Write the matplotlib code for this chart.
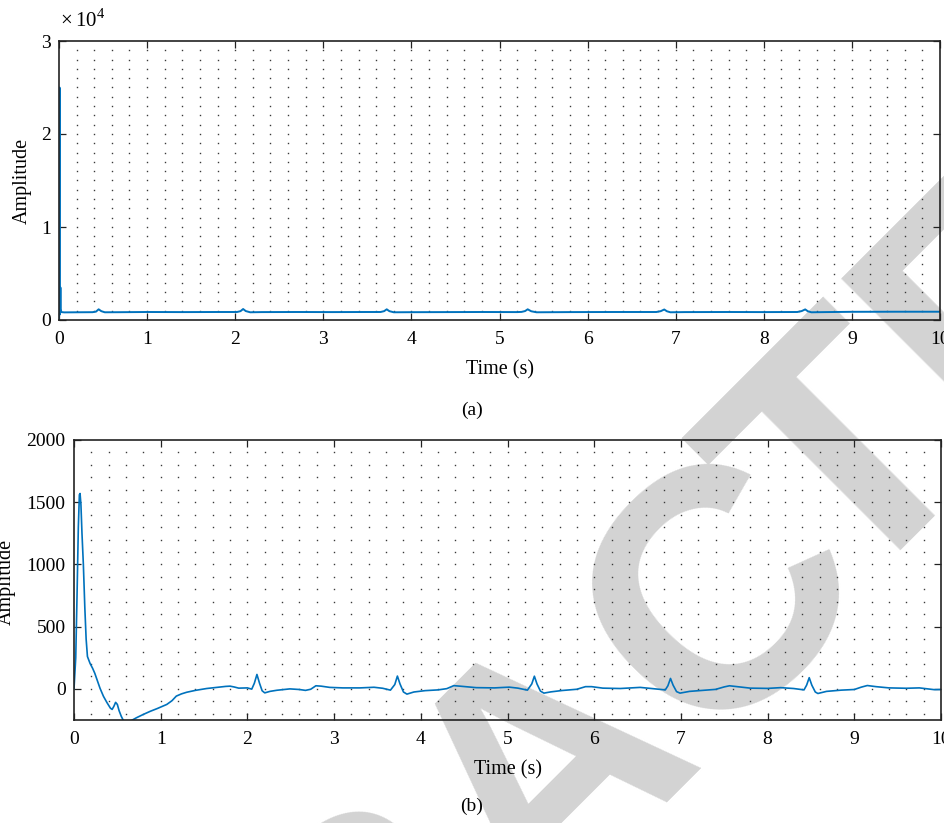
import matplotlib
matplotlib.use("Agg")
import matplotlib.pyplot as plt
import numpy as np

plt.rcParams['font.family'] = 'Liberation Serif'
plt.rcParams['mathtext.fontset'] = 'custom'
plt.rcParams['mathtext.rm'] = 'Liberation Serif'

# (a) raw ECG recording
t_raw = [0.000, 0.006, 0.011, 0.016, 0.020, 0.026, 0.060, 0.200, 0.380, 0.420,
         0.450, 0.480, 0.520, 0.700, 1.000, 1.400, 1.800, 2.020, 2.060, 2.090,
         2.120, 2.170, 2.300, 2.700, 3.100, 3.500, 3.650, 3.690, 3.720, 3.750,
         3.800, 4.000, 4.400, 4.800, 5.200, 5.250, 5.290, 5.320, 5.360, 5.420,
         5.800, 6.300, 6.780, 6.830, 6.870, 6.900, 6.940, 7.100, 7.600, 8.000,
         8.380, 8.430, 8.470, 8.500, 8.540, 8.700, 9.000, 9.500, 10.000]
amp_raw = [0, 25000, 600, 3500, 1200, 850, 820, 830, 840, 900,
           1150, 950, 830, 840, 860, 850, 860, 860, 950, 1180,
           960, 830, 850, 860, 850, 860, 860, 950, 1150, 950,
           830, 840, 850, 860, 850, 870, 960, 1150, 940, 830,
           850, 860, 860, 950, 1130, 940, 830, 850, 860, 850,
           860, 960, 1140, 940, 830, 850, 880, 890, 890]

# (b) filtered recording
t_filt = [0.000, 0.020, 0.035, 0.050, 0.062, 0.070, 0.080, 0.092, 0.108, 0.125,
          0.140, 0.155, 0.185, 0.215, 0.240, 0.270, 0.300, 0.340, 0.380, 0.420,
          0.440, 0.460, 0.480, 0.500, 0.520, 0.545, 0.570, 0.610, 0.660, 0.720,
          0.800, 0.880, 0.960, 1.070, 1.130, 1.180, 1.240, 1.300, 1.400, 1.530,
          1.650, 1.750, 1.800, 1.850, 1.900, 2.000, 2.050, 2.080, 2.110, 2.140,
          2.170, 2.200, 2.260, 2.340, 2.490, 2.600, 2.670, 2.730, 2.790, 2.850,
          2.950, 3.100, 3.300, 3.460, 3.560, 3.650, 3.700, 3.730, 3.760, 3.800,
          3.840, 3.920, 4.050, 4.200, 4.300, 4.380, 4.450, 4.640, 4.850, 5.020,
          5.120, 5.230, 5.280, 5.310, 5.340, 5.380, 5.420, 5.500, 5.630, 5.800,
          5.900, 5.970, 6.100, 6.300, 6.530, 6.650, 6.820, 6.850, 6.880, 6.910,
          6.950, 6.990, 7.100, 7.250, 7.400, 7.500, 7.560, 7.650, 7.800, 8.000,
          8.150, 8.300, 8.420, 8.450, 8.480, 8.510, 8.550, 8.580, 8.680, 8.850,
          9.000, 9.080, 9.150, 9.250, 9.400, 9.600, 9.750, 9.850, 9.920, 10.000]
amp_filt = [0, 250, 750, 1300, 1560, 1570, 1480, 1250, 1000, 650,
            400, 260, 205, 165, 125, 65, 5, -60, -110, -155,
            -165, -140, -108, -125, -175, -220, -255, -265, -255, -232,
            -205, -180, -158, -125, -95, -58, -40, -27, -12, 3,
            12, 20, 22, 15, 6, 8, -2, 45, 116, 45,
            -15, -32, -20, -11, 0, -5, -12, -3, 25, 22,
            12, 8, 8, 13, 5, -10, 35, 103, 40, -25,
            -42, -25, -14, -8, 2, 26, 22, 10, 8, 14,
            6, -10, 40, 102, 40, -18, -34, -24, -13, -3,
            18, 18, 6, 3, 12, 4, -8, 25, 84, 30,
            -22, -34, -20, -12, -4, 16, 25, 18, 6, 4,
            10, 3, -8, 30, 90, 30, -25, -37, -20, -10,
            -5, 14, 27, 18, 8, 5, 8, 0, -6, -5]

line_color = '#0072BD'
W, H = 944, 823

fig = plt.figure(figsize=(W / 100, H / 100), dpi=100)
fig.patch.set_facecolor('white')

# big diagonal stamp behind both panels, set in two runs so the
# "TED" part sits tighter against the C
stamp = dict(family='Liberation Sans', fontweight='bold', fontsize=245,
             color='#d3d3d3', rotation=45, rotation_mode='anchor',
             va='baseline', zorder=-1)
fig.text(876 / W, 1 - 571 / H, 'RETRAC', ha='right', **stamp)
fig.text(843 / W, 1 - 604 / H, 'TED', ha='left', **stamp)

ax1 = fig.add_axes([59 / W, 1 - 320 / H, 881 / W, 279 / H])
ax2 = fig.add_axes([74 / W, 1 - 720 / H, 867 / W, 280 / H])


def style_axes(ax, ylim, yminor, yticks):
    ax.set_facecolor('none')
    ax.set_xlim(0, 10)
    ax.set_ylim(*ylim)
    ax.set_xticks(np.arange(0, 11, 1))
    ax.set_yticks(yticks)
    # dotted minor grid drawn as a lattice of dots
    xs = np.arange(0.2, 9.95, 0.2)
    start = int(np.ceil(ylim[0] / yminor)) * yminor
    if start == ylim[0]:
        start += yminor
    ys = np.arange(start, ylim[1] - 1, yminor)
    gx, gy = np.meshgrid(xs, ys)
    ax.plot(gx.ravel(), gy.ravel(), ls='none', marker='s', ms=1.0,
            mec='none', mfc='#3a3a3a', zorder=0.5)
    ax.tick_params(direction='in', top=True, right=True, length=5,
                   width=0.9, labelsize=14, pad=8, color='#222222')
    ax.tick_params(axis='y', pad=6)
    for s in ax.spines.values():
        s.set_linewidth(1.2)
        s.set_color('#222222')
    ax.set_xlabel('Time (s)', fontsize=14.5, labelpad=9)


style_axes(ax1, (0, 30000), 1000, [0, 10000, 20000, 30000])
ax1.set_yticklabels(['0', '1', '2', '3'])
ax1.plot(t_raw, amp_raw, color=line_color, lw=1.4, zorder=2)
fig.text(60 / W, 1 - 27 / H, r'$\times\,10^{4}$', fontsize=15, va='baseline')

style_axes(ax2, (-250, 2000), 100, [0, 500, 1000, 1500, 2000])
ax2.plot(t_filt, amp_filt, color=line_color, lw=1.2, zorder=2)

fig.text(22 / W, 1 - 181 / H, 'Amplitude', rotation=90, fontsize=14.5,
         ha='center', va='center')
fig.text(6 / W, 1 - 582 / H, 'Amplitude', rotation=90, fontsize=14.5,
         ha='center', va='center')
fig.text(472 / W, 1 - 410 / H, '(a)', fontsize=14, ha='center', va='center')
fig.text(472 / W, 1 - 806 / H, '(b)', fontsize=14, ha='center', va='center')

fig.savefig('out.png', dpi=100)
